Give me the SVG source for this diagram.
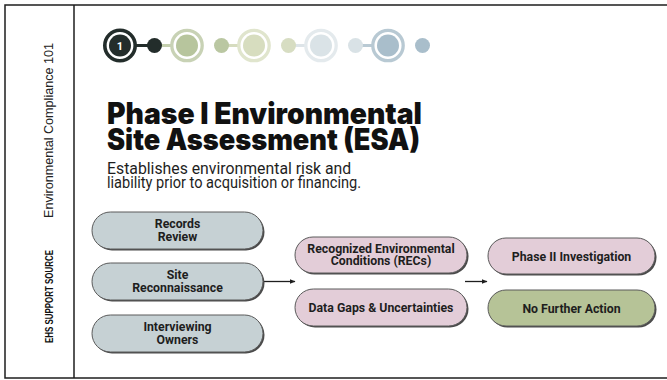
<svg xmlns="http://www.w3.org/2000/svg" width="667" height="380" viewBox="0 0 667 380">
<defs>
<marker id="arr" viewBox="0 0 6 6" refX="5.5" refY="3" markerWidth="6" markerHeight="6" markerUnits="userSpaceOnUse" orient="auto">
<path d="M0,0.6 L6,3 L0,5.4 Z" fill="#1e1e1e"/>
</marker>
</defs>
<style>
.frame{fill:none;stroke:#1e1e1e;stroke-width:1.5}
.shadow{fill:#4a4a4a}
.box{stroke:#5a5a5a;stroke-width:1}
.gray{fill:#c6d1d4}
.pink{fill:#e3cdd8}
.green{fill:#b6c397}
.lbl{font-family:Roboto,"Liberation Sans",sans-serif;font-weight:700;font-size:12.3px;fill:#1e1e1e;text-anchor:middle}
.conn{stroke:#1e1e1e;stroke-width:1.3;fill:none}
.ttl{font-family:Inter,"Open Sans",sans-serif;font-weight:900;font-size:29.5px;fill:#111}
.sub{font-family:Roboto,"Liberation Sans",sans-serif;font-size:15.8px;fill:#1e1e1e}
</style>
<rect x="0" y="0" width="667" height="380" fill="#ffffff"/>
<rect class="frame" x="5" y="5" width="665" height="373"/>
<line class="frame" x1="74" y1="5" x2="74" y2="378"/>

<g id="sidebar">
<text transform="translate(53,130.5) rotate(-90)" text-anchor="middle" font-family="Liberation Sans, Arial, sans-serif" font-size="12.2" fill="#222" textLength="175" lengthAdjust="spacingAndGlyphs">Environmental Compliance 101</text>
<text transform="translate(53,296.5) rotate(-90)" text-anchor="middle" font-family="Liberation Sans, Arial, sans-serif" font-weight="700" font-size="10.5" fill="#111" textLength="93" lengthAdjust="spacingAndGlyphs">EHS SUPPORT SOURCE</text>
</g>

<g id="progress">
<line x1="120" y1="45.5" x2="154.5" y2="45.5" stroke="#232d2b" stroke-width="3.2"/>
<line x1="154.5" y1="45.5" x2="187" y2="45.5" stroke="#c4cfae" stroke-width="3.2"/>
<line x1="221.5" y1="45.5" x2="254" y2="45.5" stroke="#d6dcbf" stroke-width="3.2"/>
<line x1="288.5" y1="45.5" x2="321" y2="45.5" stroke="#dde4e8" stroke-width="3.2"/>
<line x1="355.5" y1="45.5" x2="388" y2="45.5" stroke="#b9cad4" stroke-width="3.2"/>
<circle cx="120" cy="45.5" r="15.2" fill="#ffffff" stroke="#232d2b" stroke-width="3.6"/>
<circle cx="120" cy="45.5" r="11" fill="#232d2b"/>
<text x="120" y="49.5" text-anchor="middle" font-family="Roboto, Liberation Sans, sans-serif" font-weight="700" font-size="11" fill="#ffffff">1</text>
<circle cx="154.5" cy="45.5" r="7.5" fill="#232d2b"/>
<circle cx="187" cy="45.5" r="15.2" fill="#ffffff" stroke="#c8d2b5" stroke-width="3.3"/>
<circle cx="187" cy="45.5" r="11" fill="#b7c59d"/>
<circle cx="221.5" cy="45.5" r="7.5" fill="#bac7a2"/>
<circle cx="254" cy="45.5" r="15.2" fill="#ffffff" stroke="#e0e5cd" stroke-width="3.3"/>
<circle cx="254" cy="45.5" r="11" fill="#d7ddbf"/>
<circle cx="288.5" cy="45.5" r="7.5" fill="#d7ddc2"/>
<circle cx="321" cy="45.5" r="15.2" fill="#ffffff" stroke="#e4eaed" stroke-width="3.3"/>
<circle cx="321" cy="45.5" r="11" fill="#dae3e7"/>
<circle cx="355.5" cy="45.5" r="7.5" fill="#d9e2e6"/>
<circle cx="388" cy="45.5" r="15.2" fill="#ffffff" stroke="#b8c9d3" stroke-width="3.3"/>
<circle cx="388" cy="45.5" r="11" fill="#a9becb"/>
<circle cx="422.5" cy="45.5" r="7.5" fill="#a9becb"/>
</g>

<g id="title">
<text class="ttl" x="107" y="124" textLength="315" lengthAdjust="spacingAndGlyphs">Phase I Environmental</text>
<text class="ttl" x="107" y="150" textLength="313" lengthAdjust="spacingAndGlyphs">Site Assessment (ESA)</text>
</g>
<g id="subtitle">
<text class="sub" x="107" y="173.5">Establishes environmental risk and</text>
<text class="sub" x="107" y="187.5" textLength="254" lengthAdjust="spacingAndGlyphs">liability prior to acquisition or financing.</text>
</g>

<g id="connectors">
<line class="conn" x1="263" y1="281.5" x2="295" y2="281.5" marker-end="url(#arr)"/>
<line class="conn" x1="465" y1="281.5" x2="487" y2="281.5" marker-end="url(#arr)"/>
</g>

<g id="records-review">
<rect class="shadow" x="93.5" y="213.5" width="171" height="37" rx="18.5"/>
<rect class="box gray" x="92" y="212" width="171" height="37" rx="18.5"/>
<text class="lbl" x="177.5" y="228">Records</text>
<text class="lbl" x="177.5" y="240.5">Review</text>
</g>
<g id="site-reconnaissance">
<rect class="shadow" x="93.5" y="264.5" width="171" height="37" rx="18.5"/>
<rect class="box gray" x="92" y="263" width="171" height="37" rx="18.5"/>
<text class="lbl" x="177.5" y="279">Site</text>
<text class="lbl" x="177.5" y="291.5">Reconnaissance</text>
</g>
<g id="interviewing-owners">
<rect class="shadow" x="93.5" y="316.5" width="171" height="37" rx="18.5"/>
<rect class="box gray" x="92" y="315" width="171" height="37" rx="18.5"/>
<text class="lbl" x="177.5" y="331">Interviewing</text>
<text class="lbl" x="177.5" y="343.5">Owners</text>
</g>
<g id="recs">
<rect class="shadow" x="296.5" y="238.5" width="172" height="36" rx="18"/>
<rect class="box pink" x="295" y="237" width="172" height="36" rx="18"/>
<text class="lbl" x="381" y="252.5">Recognized Environmental</text>
<text class="lbl" x="381" y="265">Conditions (RECs)</text>
</g>
<g id="data-gaps">
<rect class="shadow" x="296.5" y="290.5" width="172" height="37" rx="18.5"/>
<rect class="box pink" x="295" y="289" width="172" height="37" rx="18.5"/>
<text class="lbl" x="381" y="311.5">Data Gaps &amp; Uncertainties</text>
</g>
<g id="phase-ii">
<rect class="shadow" x="489.5" y="239.5" width="167" height="36" rx="18"/>
<rect class="box pink" x="488" y="238" width="167" height="36" rx="18"/>
<text class="lbl" x="571.5" y="260.5">Phase II Investigation</text>
</g>
<g id="no-further-action">
<rect class="shadow" x="489.5" y="291.5" width="167" height="36" rx="18"/>
<rect class="box green" x="488" y="290" width="167" height="36" rx="18"/>
<text class="lbl" x="571.5" y="312.5">No Further Action</text>
</g>
</svg>
